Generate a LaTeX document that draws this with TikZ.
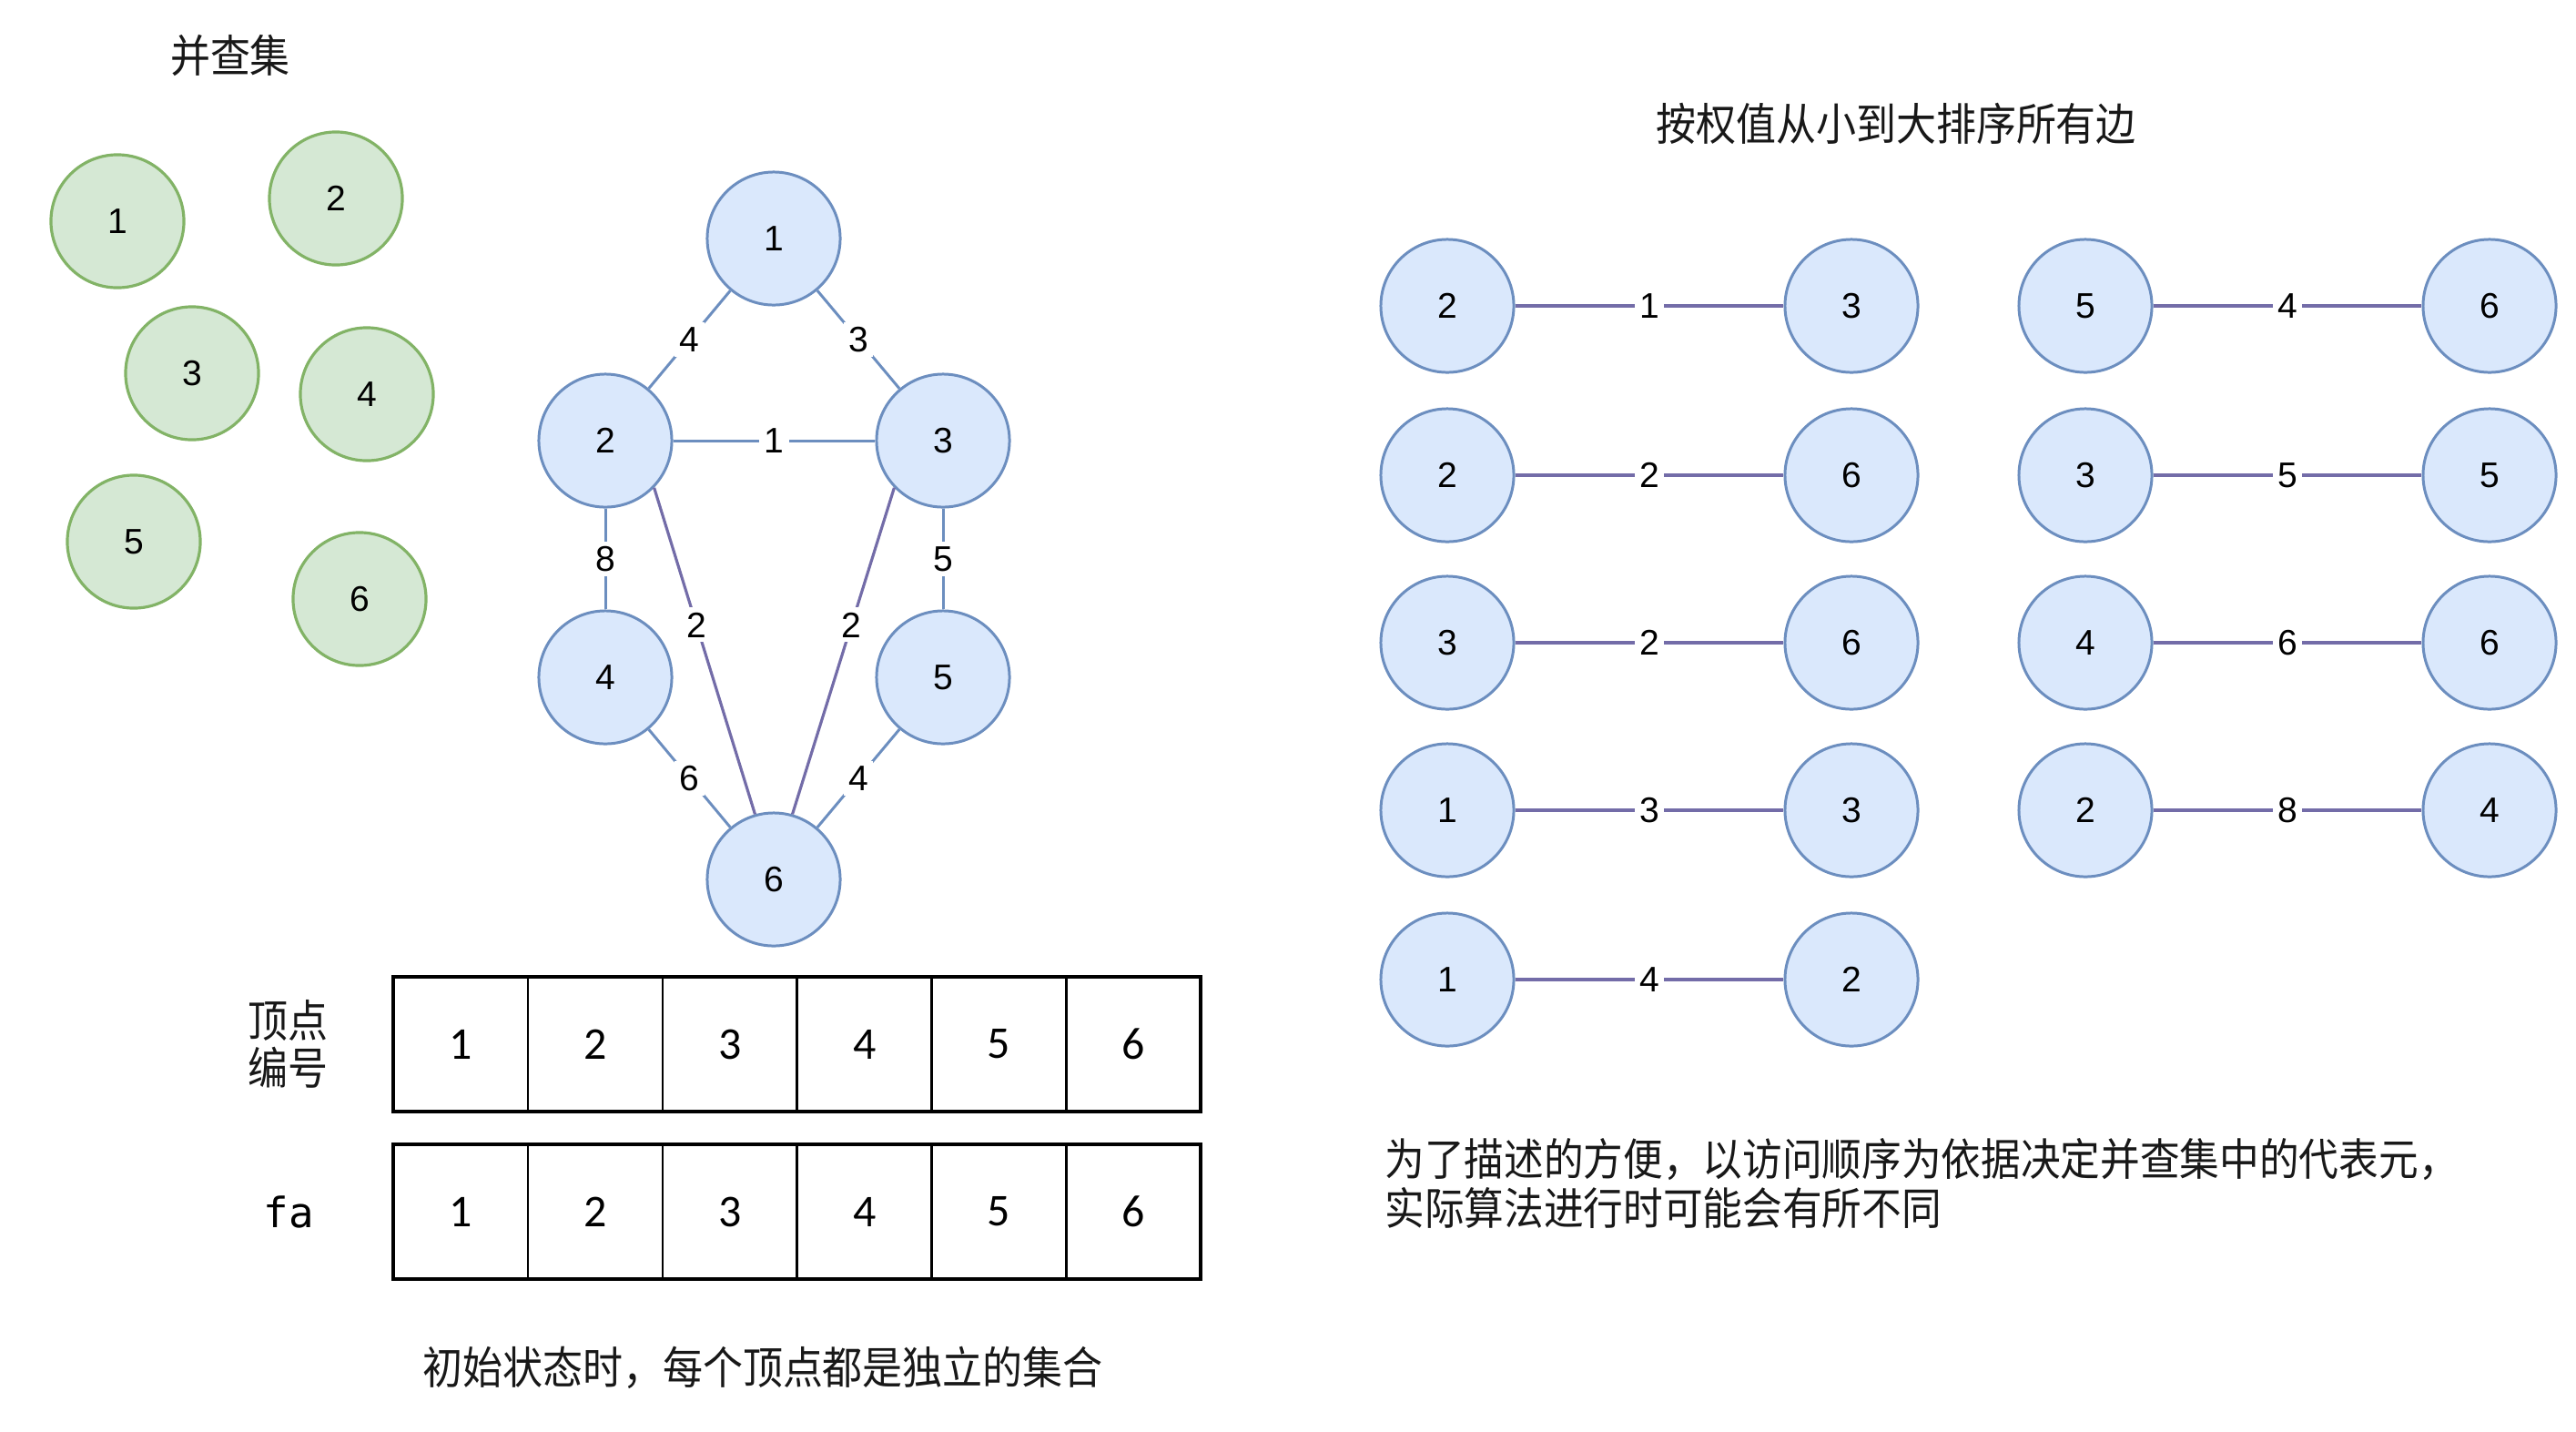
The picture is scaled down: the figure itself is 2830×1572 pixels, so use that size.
\documentclass[tikz,border=0pt]{standalone}
\usepackage{fontspec}
\setmainfont{Liberation Sans}
\setmonofont{DejaVu Sans Mono}
\newfontfamily\cjk[FakeStretch=0.9]{Noto Sans CJK SC}
\newfontfamily\cellfont{Carlito}
\usetikzlibrary{positioning,fit}
\definecolor{ufgreen}{RGB}{213,232,212}
\definecolor{ufgreenedge}{RGB}{130,179,102}
\definecolor{ufblue}{RGB}{218,232,252}
\definecolor{ufblueedge}{RGB}{108,142,191}
\definecolor{ufpurple}{RGB}{115,108,168}
\definecolor{ufink}{RGB}{24,24,24}
\tikzset{
  setnode/.style={
    circle, draw=ufgreenedge, fill=ufgreen, line width=0.9pt,
    minimum size=1.46cm, inner sep=0pt, font=\fontsize{11.1}{13}\selectfont
  },
  vtx/.style={
    circle, draw=ufblueedge, fill=ufblue, line width=0.85pt,
    minimum size=1.46cm, inner sep=0pt, font=\fontsize{11.1}{13}\selectfont
  },
  wedge/.style={draw=ufblueedge, line width=0.85pt},
  sedge/.style={draw=ufpurple, line width=0.9pt},
  wlab/.style={fill=white, inner sep=1.5pt, font=\fontsize{11.1}{13}\selectfont},
  cell/.style={
    draw=black, line width=0.7pt, outer sep=0pt, inner sep=0pt,
    minimum width=1.478cm, minimum height=1.48cm,
    font=\cellfont\fontsize{14.2}{16}\selectfont
  },
  rowbox/.style={draw=black, line width=1.1pt, inner sep=0pt},
  zh/.style={font=\cjk\fontsize{13.9}{15}\selectfont, text=ufink},
  note/.style={font=\cjk\fontsize{13.8}{15.4}\selectfont, text=ufink, align=left}
}
\begin{document}
\begin{tikzpicture}[x=0.01cm, y=-0.01cm]
  \useasboundingbox (0,0) rectangle (2830,1572);

  % separate sets
  \node[zh] (settitle) at (253,61) {并查集};
  \node[setnode] (s1) at (129,243) {1};
  \node[setnode] (s2) at (369,218) {2};
  \node[setnode] (s3) at (211,410) {3};
  \node[setnode] (s4) at (403,433) {4};
  \node[setnode] (s5) at (147,595) {5};
  \node[setnode] (s6) at (395,658) {6};

  % the graph
  \node[vtx] (g1) at (850,262) {1};
  \node[vtx] (g2) at (665,484) {2};
  \node[vtx] (g3) at (1036,484) {3};
  \node[vtx] (g4) at (665,744) {4};
  \node[vtx] (g5) at (1036,744) {5};
  \node[vtx] (g6) at (850,966) {6};
  \draw[wedge] (g1) -- node[wlab] {4} (g2);
  \draw[wedge] (g1) -- node[wlab] {3} (g3);
  \draw[wedge] (g2) -- node[wlab] {1} (g3);
  \draw[wedge] (g2) -- node[wlab] {8} (g4);
  \draw[wedge] (g3) -- node[wlab] {5} (g5);
  \draw[wedge] (g4) -- node[wlab] {6} (g6);
  \draw[wedge] (g5) -- node[wlab] {4} (g6);
  \draw[sedge] (g2.-44) -- node[wlab, pos=0.42] {2} (g6.106);
  \draw[sedge] (g3.-136) -- node[wlab, pos=0.42] {2} (g6.74);

  % arrays
  \node[cell] (v1) at (506,1147) {1};
  \node[cell, right=0pt of v1] (v2) {2};
  \node[cell, right=0pt of v2] (v3) {3};
  \node[cell, right=0pt of v3] (v4) {4};
  \node[cell, right=0pt of v4] (v5) {5};
  \node[cell, right=0pt of v5] (v6) {6};
  \node[rowbox, fit=(v1)(v6)] (vrow) {};
  \node[cell] (f1) at (506,1331) {1};
  \node[cell, right=0pt of f1] (f2) {2};
  \node[cell, right=0pt of f2] (f3) {3};
  \node[cell, right=0pt of f3] (f4) {4};
  \node[cell, right=0pt of f4] (f5) {5};
  \node[cell, right=0pt of f5] (f6) {6};
  \node[rowbox, fit=(f1)(f6)] (frow) {};
  \node[zh, align=center, font=\cjk\fontsize{13.9}{14.8}\selectfont] (vlab) at (316,1147) {顶点\\编号};
  \node[font=\ttfamily\fontsize{13}{15}\selectfont] (flab) at (317,1331) {fa};
  \node[zh] (initcap) at (838,1502) {初始状态时，每个顶点都是独立的集合};

  % sorted edges
  \node[zh] (sorttitle) at (2083,136) {按权值从小到大排序所有边};
  \node[vtx] (p1a) at (1590,336) {2};
  \node[vtx] (p1b) at (2034,336) {3};
  \node[vtx] (p2a) at (1590,522) {2};
  \node[vtx] (p2b) at (2034,522) {6};
  \node[vtx] (p3a) at (1590,706) {3};
  \node[vtx] (p3b) at (2034,706) {6};
  \node[vtx] (p4a) at (1590,890) {1};
  \node[vtx] (p4b) at (2034,890) {3};
  \node[vtx] (p5a) at (1590,1076) {1};
  \node[vtx] (p5b) at (2034,1076) {2};
  \node[vtx] (p6a) at (2291,336) {5};
  \node[vtx] (p6b) at (2735,336) {6};
  \node[vtx] (p7a) at (2291,522) {3};
  \node[vtx] (p7b) at (2735,522) {5};
  \node[vtx] (p8a) at (2291,706) {4};
  \node[vtx] (p8b) at (2735,706) {6};
  \node[vtx] (p9a) at (2291,890) {2};
  \node[vtx] (p9b) at (2735,890) {4};
  \draw[sedge] (p1a) -- node[wlab] {1} (p1b);
  \draw[sedge] (p2a) -- node[wlab] {2} (p2b);
  \draw[sedge] (p3a) -- node[wlab] {2} (p3b);
  \draw[sedge] (p4a) -- node[wlab] {3} (p4b);
  \draw[sedge] (p5a) -- node[wlab] {4} (p5b);
  \draw[sedge] (p6a) -- node[wlab] {4} (p6b);
  \draw[sedge] (p7a) -- node[wlab] {5} (p7b);
  \draw[sedge] (p8a) -- node[wlab] {6} (p8b);
  \draw[sedge] (p9a) -- node[wlab] {8} (p9b);
  \node[note, anchor=west] (remark) at (1509,1300) {为了描述的方便，以访问顺序为依据决定并查集中的代表元，\\实际算法进行时可能会有所不同};
\end{tikzpicture}
\end{document}
